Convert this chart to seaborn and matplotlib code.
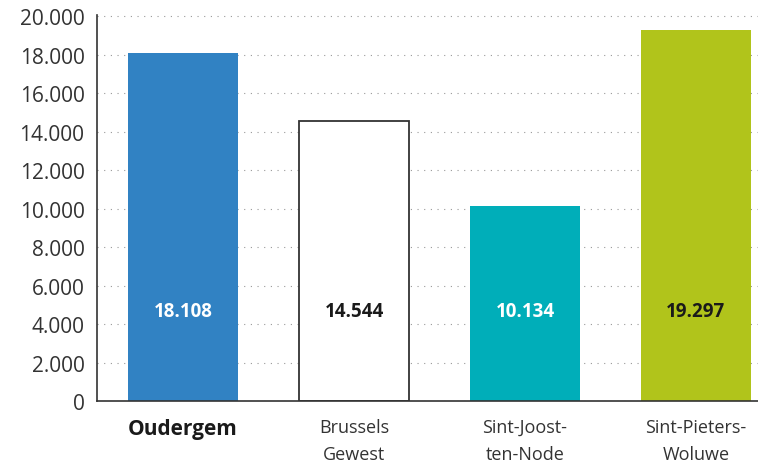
import matplotlib
matplotlib.use("Agg")
import matplotlib.pyplot as plt
import seaborn as sns
import pandas as pd

# data
categories = ["Oudergem", "Brussels\nGewest", "Sint-Joost-\nten-Node", "Sint-Pieters-\nWoluwe"]
values = [18108, 14544, 10134, 19297]
value_labels = ["18.108", "14.544", "10.134", "19.297"]
yticks = [0, 2000, 4000, 6000, 8000, 10000, 12000, 14000, 16000, 18000, 20000]
ytick_labels = ["0", "2.000", "4.000", "6.000", "8.000", "10.000", "12.000",
                "14.000", "16.000", "18.000", "20.000"]

colors = ["#3182c3", "#ffffff", "#00aeb9", "#b1c41b"]
text_colors = ["white", "#1a1a1a", "white", "#1a1a1a"]

sns.set_style("white")
plt.rcParams['font.family'] = ['Open Sans', 'DejaVu Sans']

df = pd.DataFrame({"cat": categories, "val": values})

fig = plt.figure(figsize=(7.58, 4.64), dpi=100)
ax = fig.add_axes([0.128, 0.1336, 0.872, 0.832])

sns.barplot(data=df, x="cat", y="val", hue="cat", palette=colors,
            legend=False, width=0.643, saturation=1, ax=ax, zorder=2)

# outline for the white bar
for i, p in enumerate(ax.patches):
    if colors[i] == "#ffffff":
        p.set_edgecolor("#333333")
        p.set_linewidth(1.3)
    else:
        p.set_linewidth(0)

for i, v in enumerate(values):
    ax.text(i, 4700, value_labels[i], ha="center", va="center",
            fontsize=13.5, fontweight="bold", color=text_colors[i], zorder=3)

ax.set_ylim(0, 20060)
ax.set_xlim(-0.503, 3.363)
ax.set_yticks(yticks)
ax.set_yticklabels(ytick_labels, fontsize=15, color="#333333")
ax.yaxis.grid(True, linestyle=(0, (1, 5)), color="#999999", linewidth=0.8, zorder=0)
ax.set_axisbelow(True)

ax.set_xticks(range(len(categories)))
ax.set_xticklabels(categories, fontsize=13, color="#333333", linespacing=1.65)
ax.get_xticklabels()[0].set_fontweight("bold")
ax.get_xticklabels()[0].set_fontsize(15)
ax.get_xticklabels()[0].set_color("#1a1a1a")
ax.tick_params(axis="y", length=0, pad=9)
ax.tick_params(axis="x", length=0, pad=12)

ax.set_xlabel("")
ax.set_ylabel("")
for s in ["top", "right"]:
    ax.spines[s].set_visible(False)
ax.spines["left"].set_color("#333333")
ax.spines["bottom"].set_color("#333333")
ax.spines["left"].set_linewidth(1.2)
ax.spines["bottom"].set_linewidth(1.2)

fig.savefig("out.png", dpi=100)
